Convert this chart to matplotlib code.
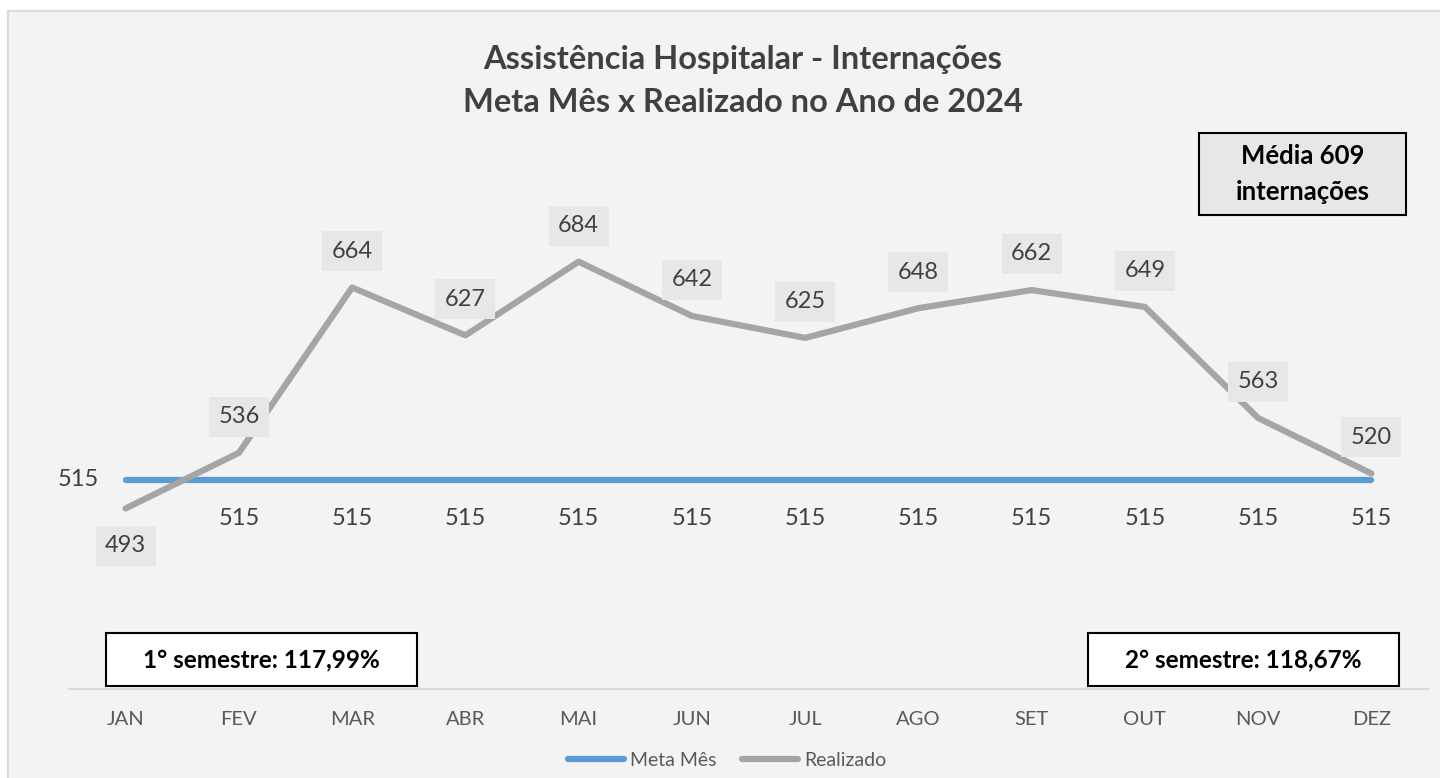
import matplotlib
matplotlib.use("Agg")
import matplotlib.pyplot as plt
from matplotlib.patches import Rectangle

plt.rcParams['font.family'] = ['Lato', 'DejaVu Sans']

meses = ["JAN", "FEV", "MAR", "ABR", "MAI", "JUN", "JUL", "AGO", "SET", "OUT", "NOV", "DEZ"]
meta = [515] * 12
realizado = [493, 536, 664, 627, 684, 642, 625, 648, 662, 649, 563, 520]

titulo = "Assistência Hospitalar - Internações\nMeta Mês x Realizado no Ano de 2024"
texto_media = "Média 609\ninternações"
texto_sem1 = "1° semestre: 117,99%"
texto_sem2 = "2° semestre: 118,67%"

W, H = 1440, 778
fig = plt.figure(figsize=(W / 100, H / 100), dpi=100)
fig.patch.set_facecolor("white")

# painel cinza de fundo
fig.patches.append(Rectangle((8 / W, -0.01), 1.0, 1 - 11 / H + 0.01, transform=fig.transFigure,
                             facecolor="#f3f3f3", edgecolor="#d9d9d9", linewidth=1.5, zorder=-5))

ax = fig.add_axes([69 / W, (H - 689) / H, (1428 - 69) / W, (689 - 140) / H])
ax.set_facecolor("none")
ax.set_zorder(1)

x = list(range(len(meses)))
ax.plot(x, meta, color="#5b9bd5", linewidth=4.5, solid_capstyle="round", label="Meta Mês", zorder=3)
ax.plot(x, realizado, color="#a5a5a5", linewidth=4.5, solid_capstyle="round", label="Realizado", zorder=4)

ax.set_xlim(-0.5, len(meses) - 0.5)
ax.set_ylim(353.2, 778.2)

for i, v in enumerate(realizado):
    dy = -27 if i == 0 else 26
    ax.annotate(str(v), (i, v), xytext=(0, dy), textcoords="offset points",
                ha="center", va="center", fontsize=17, color="#404040", zorder=5,
                bbox=dict(boxstyle="square,pad=0.4", facecolor="#e7e7e7", edgecolor="none"))

for i, v in enumerate(meta):
    if i == 0:
        ax.annotate(str(v), (i, v), xytext=(-34, 0), textcoords="offset points",
                    ha="center", va="center", fontsize=17, color="#404040")
    else:
        ax.annotate(str(v), (i, v), xytext=(0, -28), textcoords="offset points",
                    ha="center", va="center", fontsize=17, color="#404040")

for s in ["top", "left", "right"]:
    ax.spines[s].set_visible(False)
ax.spines["bottom"].set_color("#d9d9d9")
ax.spines["bottom"].set_linewidth(1.5)
ax.set_yticks([])
ax.set_xticks(x)
ax.set_xticklabels(meses, fontsize=14.5, color="#595959")
ax.tick_params(axis="x", length=0, pad=16)

fig.text(743 / W, 1 - 81 / H, titulo, ha="center", va="center", fontsize=23.5,
         fontweight="bold", color="#404040", linespacing=1.6)

def caixa(x0, y0, x1, y1, texto, cor, tam):
    fig.patches.append(Rectangle((x0 / W, 1 - y1 / H), (x1 - x0) / W, (y1 - y0) / H,
                                 transform=fig.transFigure, facecolor=cor,
                                 edgecolor="black", linewidth=1.5, zorder=6))
    fig.text((x0 + x1) / 2 / W, 1 - (y0 + y1) / 2 / H, texto, ha="center", va="center",
             fontsize=tam, fontweight="bold", color="black", linespacing=1.55, zorder=7)

caixa(1199, 133, 1406, 215, texto_media, "#e7e7e7", 18.5)
caixa(106, 633, 417, 686, texto_sem1, "white", 17.5)
caixa(1088, 633, 1399, 686, texto_sem2, "white", 17.5)

fig.legend(loc="center", bbox_to_anchor=(727 / W, 1 - 760 / H), ncol=2, frameon=False,
           fontsize=14, labelcolor="#595959", handlelength=2.9, handletextpad=0.3,
           columnspacing=1.3)

fig.savefig("out.png", dpi=100)
